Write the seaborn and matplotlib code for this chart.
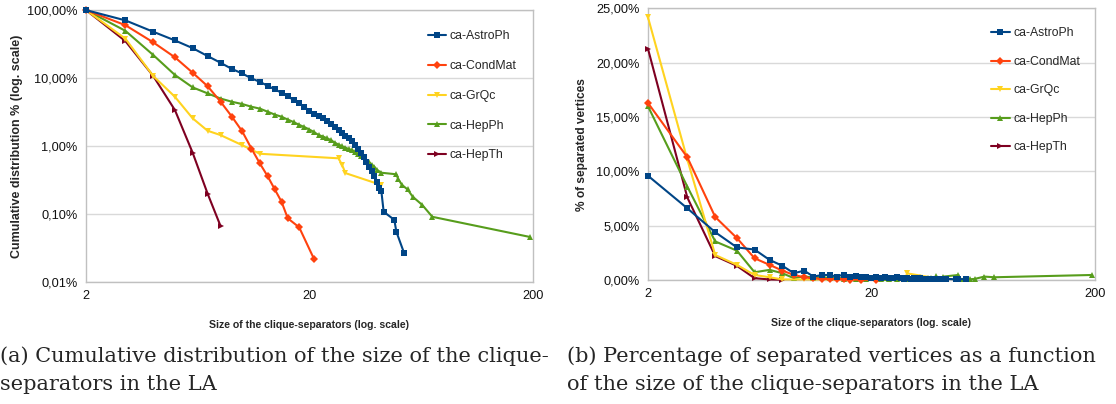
import numpy as np
import pandas as pd
import matplotlib
matplotlib.use("Agg")
import matplotlib.pyplot as plt
from matplotlib.ticker import FixedLocator, FuncFormatter, NullLocator
import seaborn as sns

# separator sizes and values (percent)
series_names = ['ca-AstroPh', 'ca-CondMat', 'ca-GrQc', 'ca-HepPh', 'ca-HepTh']

astro_sizes = list(range(2, 43)) + [43, 48, 49, 53]
astro_cum = [100, 70.6, 48, 35.8, 27.6, 21.1, 16.8, 13.6, 11.7, 9.9,
             8.8, 7.7, 6.8, 6.1, 5.4, 4.75, 4.25, 3.75, 3.3, 3.0,
             2.75, 2.56, 2.3, 2.1, 1.9, 1.7, 1.55, 1.42, 1.3, 1.17,
             1.03, 0.9, 0.79, 0.69, 0.58, 0.5, 0.43, 0.36, 0.3, 0.24,
             0.215, 0.108, 0.082, 0.055, 0.027]
astro_sep = [9.6, 6.6, 4.4, 3.0, 2.8, 1.85, 1.3, 0.62, 0.86, 0.31,
             0.46, 0.46, 0.31, 0.5, 0.3, 0.35, 0.25, 0.3, 0.2, 0.3,
             0.2, 0.25, 0.15, 0.2, 0.25, 0.15, 0.1, 0.2, 0.12, 0.18,
             0.1, 0.15, 0.08, 0.12, 0.1, 0.08, 0.12, 0.06, 0.1, 0.05,
             0.08, 0.12, 0.05, 0.08, 0.06]

cond_sizes = list(range(2, 17)) + [18, 21]
cond_cum = [100, 60, 33.5, 20.2, 12, 7.6, 4.5, 2.7, 1.65, 0.92,
            0.555, 0.36, 0.23, 0.152, 0.0865, 0.0637, 0.0216]
cond_sep = [16.3, 11.3, 5.8, 3.86, 2.0, 1.39, 0.86, 0.46, 0.25, 0.15,
            0.1, 0.08, 0.06, 0.05, 0.04, 0.03, 0.02]

grqc_sizes = [2, 3, 4, 5, 6, 7, 8, 10, 12, 27, 28, 29, 42]
grqc_cum = [100, 38, 10.7, 5.3, 2.56, 1.68, 1.45, 1.03, 0.77, 0.66, 0.53, 0.4, 0.267]
grqc_sep = [24.2, 11.1, 2.3, 1.39, 0.46, 0.25, 0.05, 0.05, 0.05, 0.1, 0.1, 0.6, 0.05]

hepph_sizes = list(range(2, 41)) + [42, 49, 50, 52, 55, 58, 64, 71, 194]
hepph_cum = [100, 49.6, 21.8, 11.1, 7.3, 5.96, 5.0, 4.48, 4.15, 3.79,
             3.55, 3.2, 2.9, 2.7, 2.45, 2.25, 2.05, 1.9, 1.75, 1.6,
             1.45, 1.38, 1.3, 1.22, 1.12, 1.05, 0.99, 0.95, 0.9, 0.87,
             0.82, 0.76, 0.72, 0.68, 0.62, 0.58, 0.53, 0.5, 0.45,
             0.405, 0.384, 0.324, 0.267, 0.23, 0.18, 0.136, 0.091, 0.046]
hepph_sep = [16.0, 8.6, 3.55, 2.7, 0.71, 0.93, 0.62, 0.16, 0.35, 0.2, 0.3,
             0.15, 0.25, 0.1, 0.2, 0.12, 0.3, 0.1, 0.15, 0.2, 0.1,
             0.18, 0.08, 0.15, 0.1, 0.2, 0.1, 0.12, 0.08, 0.15, 0.1,
             0.3, 0.12, 0.1, 0.15, 0.2, 0.1, 0.35, 0.12,
             0.31, 0.46, 0.1, 0.08, 0.06, 0.1, 0.31, 0.25, 0.46]

hepth_sizes = [2, 3, 4, 5, 6, 7, 8]
hepth_cum = [100, 35, 10.7, 3.38, 0.8, 0.2, 0.0667]
hepth_sep = [21.3, 7.6, 2.2, 1.3, 0.16, 0.05, 0.02]

all_sizes = [astro_sizes, cond_sizes, grqc_sizes, hepph_sizes, hepth_sizes]
all_cum = [astro_cum, cond_cum, grqc_cum, hepph_cum, hepth_cum]
all_sep = [astro_sep, cond_sep, grqc_sep, hepph_sep, hepth_sep]

colors = ['#004586', '#ff420e', '#ffd320', '#579d1c', '#7e0021']
markers = ['s', 'D', 'v', '^', '>']
msizes = [5.0, 4.0, 5.0, 5.0, 5.0]

rows = []
for name, sz, cum, sep in zip(series_names, all_sizes, all_cum, all_sep):
    for s, c, p in zip(sz, cum, sep):
        rows.append({'series': name, 'size': s, 'cum': c, 'sep': p})
df = pd.DataFrame(rows)

sns.set_theme(style="white")
plt.rcParams['font.family'] = ['Liberation Sans', 'DejaVu Sans']

fig = plt.figure(figsize=(11.16, 4.04), dpi=100)
ax1 = fig.add_axes([0.0771, 0.302, 0.4003, 0.673])
ax2 = fig.add_axes([0.5806, 0.307, 0.4005, 0.672])

grid_c = '#d9d9d9'
spine_c = '#c0c0c0'


def pct_fmt(v, pos):
    return f"{v:.2f}%".replace('.', ',')


ax1.set_yscale('log')

for ax, col in [(ax1, 'cum'), (ax2, 'sep')]:
    for i, name in enumerate(series_names):
        sub = df[df['series'] == name]
        sns.lineplot(data=sub, x='size', y=col, ax=ax, color=colors[i],
                     marker=markers[i], markersize=msizes[i], markeredgewidth=0,
                     linewidth=1.5, label=name, zorder=10 - i, clip_on=False,
                     sort=False, estimator=None)
    ax.set_xscale('log')
    ax.set_xlim(2, 200)
    ax.xaxis.set_major_locator(FixedLocator([2, 20, 200]))
    ax.xaxis.set_major_formatter(FuncFormatter(lambda v, p: f"{int(round(v))}"))
    ax.xaxis.set_minor_locator(NullLocator())
    ax.grid(True, axis='y', color=grid_c, linewidth=1.0)
    ax.set_axisbelow(True)
    for sp in ax.spines.values():
        sp.set_color(spine_c)
        sp.set_linewidth(1.0)
    ax.tick_params(axis='both', which='major', length=4, width=0.8, color=spine_c,
                   labelsize=9.2, pad=2, labelcolor='#111111')
    ax.set_xlabel('Size of the clique-separators (log. scale)', fontsize=7.6,
                  fontweight='bold', labelpad=13)

ax1.set_ylim(0.01, 100)
ax1.yaxis.set_major_locator(FixedLocator([0.01, 0.1, 1, 10, 100]))
ax1.yaxis.set_minor_locator(NullLocator())
ax1.yaxis.set_major_formatter(FuncFormatter(pct_fmt))
ax1.set_ylabel('Cumulative distribution % (log. scale)', fontsize=9.0,
               fontweight='bold', labelpad=3)

ax2.set_ylim(0, 25)
ax2.yaxis.set_major_locator(FixedLocator([0, 5, 10, 15, 20, 25]))
ax2.yaxis.set_major_formatter(FuncFormatter(pct_fmt))
ax2.set_ylabel('% of separated vertices', fontsize=8.6, fontweight='bold',
               labelpad=6)

for ax, anchor, sp in [(ax1, (0.765, 0.925), 1.45), (ax2, (0.768, 0.93), 1.35)]:
    ax.legend(loc='upper left', bbox_to_anchor=anchor, frameon=False,
              fontsize=8.8, labelspacing=sp, handlelength=1.5,
              handletextpad=0.3, borderpad=0, borderaxespad=0, markerscale=0.9)

cap_kw = dict(fontsize=15, family=['DejaVu Serif'], va='center', ha='left')
fig.text(0.0, 1 - 356 / 404, '(a) Cumulative distribution of the size of the clique-', **cap_kw)
fig.text(0.0, 1 - 384 / 404, 'separators in the LA', **cap_kw)
fig.text(567 / 1116, 1 - 356 / 404, '(b) Percentage of separated vertices as a function', **cap_kw)
fig.text(567 / 1116, 1 - 384 / 404, 'of the size of the clique-separators in the LA', **cap_kw)

fig.savefig('out.png', dpi=100)
plt.close(fig)
